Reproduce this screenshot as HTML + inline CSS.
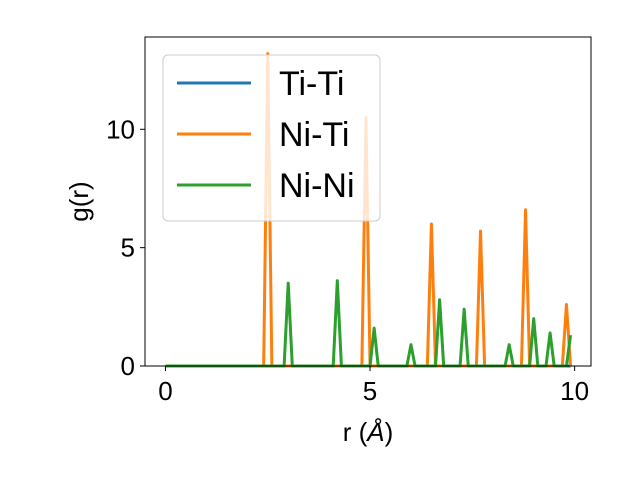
<!DOCTYPE html>
<html><head><meta charset="utf-8"><style>
body{margin:0;background:#fff;font-family:"Liberation Sans",sans-serif}
</style></head><body>
<svg width="640" height="480" xmlns="http://www.w3.org/2000/svg" font-family="Liberation Sans, sans-serif">
<g id="plot"></g>
</svg>
<script>
const rGrid = []; // r samples 0..9.9 step 0.1
for (let i = 0; i <= 99; i++) rGrid.push(+(i / 10).toFixed(1));
const seriesNames = ["Ti-Ti", "Ni-Ti", "Ni-Ni"];
const tiTiPeakR = [];
const tiTiPeakG = [];
const niTiPeakR = [2.5, 4.9, 6.5, 7.7, 8.8, 9.8];
const niTiPeakG = [13.2, 10.5, 6.0, 5.7, 6.6, 2.6];
const niNiPeakR = [3.0, 4.2, 5.1, 6.0, 6.7, 7.3, 8.4, 9.0, 9.4, 9.9];
const niNiPeakG = [3.5, 3.6, 1.6, 0.9, 2.8, 2.4, 0.9, 2.0, 1.4, 1.3];
const xTicks = [0, 5, 10];
const yTicks = [0, 5, 10];

const L = 145, R = 591, T = 37, B = 366;
const xMin = -0.5, xMax = 10.4, yMin = 0, yMax = 13.9;
const X = v => L + (v - xMin) / (xMax - xMin) * (R - L);
const Y = v => B - (v - yMin) / (yMax - yMin) * (B - T);
const NS = "http://www.w3.org/2000/svg";
const g = document.getElementById("plot");
function mk(tag, attrs, parent) {
  const e = document.createElementNS(NS, tag);
  for (const k in attrs) e.setAttribute(k, attrs[k]);
  (parent || g).appendChild(e); return e;
}
function values(pr, pg) {
  return rGrid.map(r => { const i = pr.findIndex(p => Math.abs(p - r) < 1e-6); return i >= 0 ? pg[i] : 0; });
}
const colors = ["#1f77b4", "#ff7f0e", "#2ca02c"];
const data = [values(tiTiPeakR, tiTiPeakG), values(niTiPeakR, niTiPeakG), values(niNiPeakR, niNiPeakG)];
const lineNames = ["line-ti-ti", "line-ni-ti", "line-ni-ni"];
data.forEach((vals, s) => {
  const d = vals.map((v, i) => (i ? "L" : "M") + X(rGrid[i]).toFixed(2) + "," + Y(v).toFixed(2)).join("");
  const p = mk("path", {d: d, fill: "none", stroke: colors[s], "stroke-width": 3, "stroke-linejoin": "round"});
  
  
});
// axes frame
const frame = mk("rect", {x: L, y: T, width: R - L, height: B - T, fill: "none", stroke: "#000", "stroke-width": 1});


xTicks.forEach(t => {
  const x = X(t);
  const tk = mk("line", {x1: x, x2: x, y1: B, y2: B + 5, stroke: "#000"});
  
  
  const tx = mk("text", {x: x, y: B + 34, "font-size": 26, "text-anchor": "middle"});
  tx.textContent = t;
  
  
});
yTicks.forEach(t => {
  const y = Y(t);
  const tk = mk("line", {x1: L - 5, x2: L, y1: y, y2: y, stroke: "#000"});
  
  
  const tx = mk("text", {x: L - 10, y: y + 9, "font-size": 26, "text-anchor": "end"});
  tx.textContent = t;
  
  
});
const xt = mk("text", {x: (L + R) / 2, y: 441, "font-size": 26, "text-anchor": "middle"});
xt.innerHTML = 'r (<tspan font-style="italic">Å</tspan>)';


const yt = mk("text", {x: 0, y: 0, "font-size": 26, "text-anchor": "middle", transform: "translate(88," + ((T + B) / 2) + ") rotate(-90)"});
yt.textContent = "g(r)";


// legend
const lg = mk("g", {});


mk("rect", {x: 163, y: 55, width: 217, height: 166, rx: 5, fill: "rgba(255,255,255,0.8)", stroke: "#ccc"}, lg);
seriesNames.forEach((n, s) => {
  const y = 83 + s * 51;
  const ln = mk("line", {x1: 177, x2: 251, y1: y, y2: y, stroke: colors[s], "stroke-width": 3}, lg);
  
  
  const tx = mk("text", {x: 279, y: y + 12, "font-size": 34}, lg);
  tx.textContent = n;
  
  
});
</script>
</body></html>
